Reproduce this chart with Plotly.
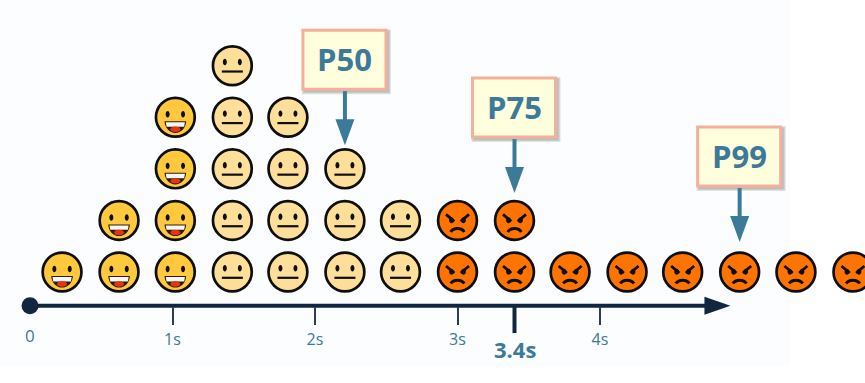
import plotly.graph_objects as go

# ---- data ----
HAPPY_X = [0.225, 0.625, 0.625, 1.02, 1.02, 1.02, 1.02]
HAPPY_LEVEL = [0, 0, 1, 0, 1, 2, 3]
NEUTRAL_X = [1.42, 1.42, 1.42, 1.42, 1.42, 1.81, 1.81, 1.81, 1.81, 2.21, 2.21, 2.21, 2.60, 2.60]
NEUTRAL_LEVEL = [0, 1, 2, 3, 4, 0, 1, 2, 3, 0, 1, 2, 0, 1]
ANGRY_X = [3.0, 3.0, 3.4, 3.4, 3.79, 4.19, 4.58, 4.98, 5.375, 5.775]
ANGRY_LEVEL = [0, 1, 0, 1, 0, 0, 0, 0, 0, 0]
PCT_LABELS = ["P50", "P75", "P99"]
PCT_X = [2.21, 3.4, 4.98]
PCT_TIP_LEVEL = [2.46, 1.53, 0.58]
TICK_VALS = [1, 2, 3, 4]
TICK_TEXT = ["1s", "2s", "3s", "4s"]
MARK_X = 3.4
MARK_TEXT = "3.4s"
AXIS_END = 4.74

# ---- style ----
W, H = 865, 383
AXIS_PX_Y = 306
AXIS_LEVEL = -0.654
PX_PER_S = 142.5
PX_PER_LEVEL = 51.57
ROW0_PX = 272
X0_PX = 30
INK = "#0e0e0e"
NAVY = "#12263f"
BLUE = "#3b7a98"
FONT = "Open Sans"
HAPPY = "#ffc83d"
NEUTRAL = "#fedf9a"
ANGRY = "#ff7400"


def py(p):
    """Paper fraction of a pixel row of the page."""
    return (H - p) / H


def ell(cx, cy, rx, ry):
    k = 0.55
    p = lambda x, y: f"{cx + x:.2f},{-(cy + y):.2f}"
    return (f"M{p(-rx, 0)} C{p(-rx, -k*ry)} {p(-k*rx, -ry)} {p(0, -ry)} "
            f"C{p(k*rx, -ry)} {p(rx, -k*ry)} {p(rx, 0)} "
            f"C{p(rx, k*ry)} {p(k*rx, ry)} {p(0, ry)} "
            f"C{p(-k*rx, ry)} {p(-rx, k*ry)} {p(-rx, 0)} Z")


def pts(*seq):
    out = []
    for s in seq:
        cmd, vals = s[0], s[1:]
        coords = " ".join(f"{vals[i]:.2f},{-vals[i+1]:.2f}" for i in range(0, len(vals), 2))
        out.append(f"{cmd}{coords}")
    return " ".join(out)


def glyph(x, y, path, fill=None, line=None, width=0):
    return dict(type="path", xref="x", yref="y", xsizemode="pixel", ysizemode="pixel",
                xanchor=x, yanchor=y, path=path, layer="above",
                fillcolor=fill if fill else "rgba(0,0,0,0)",
                line=dict(color=line if line else "rgba(0,0,0,0)", width=width))


def happy(x, y):
    return [
        glyph(x, y, ell(-7.7, -3, 2.0, 3.2) + " " + ell(7.7, -3, 2.0, 3.2), INK),
        glyph(x, y, pts(("M", -10.8, 4), ("L", 10.8, 4), ("C", 10.5, 11, 5.5, 15.6, 0, 15.6),
                        ("C", -5.5, 15.6, -10.5, 11, -10.8, 4), ("Z",)), "#2a1c08"),
        glyph(x, y, pts(("M", -9.6, 5), ("L", 9.6, 5), ("L", 8.8, 9.4), ("L", -8.8, 9.4), ("Z",)), "#f6f6f6"),
        glyph(x, y, ell(0, 12.0, 5, 2.7), "#e8330f"),
    ]


def neutral(x, y):
    return [
        glyph(x, y, ell(-7.5, -3.7, 2.0, 3.2) + " " + ell(7.5, -3.7, 2.0, 3.2), INK),
        glyph(x, y, pts(("M", -10.5, 5.8), ("L", 10.5, 5.8)), None, INK, 2.2),
    ]


def angry(x, y):
    return [
        glyph(x, y, pts(("M", -11.5, -6), ("L", -3.2, 1)) + " " + pts(("M", 11.5, -6), ("L", 3.2, 1)),
              None, INK, 2.8),
        glyph(x, y, ell(-6, -0.3, 2.4, 3) + " " + ell(6, -0.3, 2.4, 3), INK),
        glyph(x, y, pts(("M", -6.8, 11.5), ("C", -4, 7, 4, 7, 6.8, 11.5)), None, INK, 3),
    ]


fig = go.Figure()

fig.add_trace(go.Scatter(x=[0, AXIS_END], y=[AXIS_LEVEL, AXIS_LEVEL], mode="lines",
                         line=dict(color=NAVY, width=4), hoverinfo="skip"))
fig.add_trace(go.Scatter(x=[0], y=[AXIS_LEVEL], mode="markers",
                         marker=dict(color=NAVY, size=17), hoverinfo="skip"))

for xs, ys, col in ((HAPPY_X, HAPPY_LEVEL, HAPPY), (NEUTRAL_X, NEUTRAL_LEVEL, NEUTRAL), (ANGRY_X, ANGRY_LEVEL, ANGRY)):
    fig.add_trace(go.Scatter(x=xs, y=ys, mode="markers", hoverinfo="skip",
                             marker=dict(color=col, size=38.8, line=dict(color=INK, width=2.7))))

shapes = []
shapes.append(dict(type="rect", xref="paper", yref="paper", x0=0, x1=790 / W, y0=py(366), y1=1,
                   fillcolor="#fcfdff", line=dict(width=0), layer="below"))

for x, y in zip(HAPPY_X, HAPPY_LEVEL):
    shapes += happy(x, y)
for x, y in zip(NEUTRAL_X, NEUTRAL_LEVEL):
    shapes += neutral(x, y)
for x, y in zip(ANGRY_X, ANGRY_LEVEL):
    shapes += angry(x, y)

shapes.append(glyph(AXIS_END, AXIS_LEVEL, pts(("M", -1, -9), ("L", 25, 0), ("L", -1, 9), ("Z",)), NAVY))
shapes.append(dict(type="line", xref="x", yref="paper", x0=MARK_X, x1=MARK_X, y0=py(AXIS_PX_Y), y1=py(333),
                   line=dict(color=NAVY, width=4), layer="above"))

annotations = []
for label, x, tip in zip(PCT_LABELS, PCT_X, PCT_TIP_LEVEL):
    for off, alpha in ((0, 0.10), (1, 0.12), (2, 0.14)):
        shapes.append(glyph(x, tip, pts(("M", -43 - off + 2, -116 - off + 2), ("L", 42 + off + 2, -116 - off + 2),
                                        ("L", 42 + off + 2, -55 + off + 2), ("L", -43 - off + 2, -55 + off + 2), ("Z",)),
                            f"rgba(60,60,60,{alpha})"))
    shapes.append(glyph(x, tip, pts(("M", -42, -115), ("L", 41, -115), ("L", 41, -56), ("L", -42, -56), ("Z",)),
                        "#ffffdd", "#f4b09a", 3))
    shapes.append(glyph(x, tip, pts(("M", 0, -54), ("L", 0, -24)), None, BLUE, 4))
    shapes.append(glyph(x, tip, pts(("M", -9.5, -26), ("L", 9.5, -26), ("L", 0, 0), ("Z",)), BLUE))
    annotations.append(dict(x=x, y=tip, xref="x", yref="y", text=f"<b>{label}</b>", showarrow=False,
                            xshift=-0.5, yshift=86.5, xanchor="center", yanchor="middle",
                            font=dict(family=FONT, size=31, color=BLUE)))

annotations.append(dict(x=0, y=py(335.5), xref="x", yref="paper", text="0", showarrow=False,
                        xanchor="center", yanchor="middle", font=dict(family=FONT, size=17, color=BLUE)))
annotations.append(dict(x=MARK_X, y=py(349), xref="x", yref="paper",
                        text=f"<b>{MARK_TEXT}</b>", showarrow=False, xanchor="center", yanchor="middle",
                        font=dict(family=FONT, size=22, color=BLUE)))

fig.update_layout(
    width=W, height=H, autosize=False, showlegend=False,
    margin=dict(l=0, r=0, t=0, b=0, pad=0),
    paper_bgcolor="#ffffff", plot_bgcolor="rgba(0,0,0,0)",
    shapes=shapes, annotations=annotations,
    xaxis=dict(range=[-X0_PX / PX_PER_S, (W - X0_PX) / PX_PER_S], showgrid=False, zeroline=False,
               showline=False, anchor="free", position=py(AXIS_PX_Y),
               tickmode="array", tickvals=TICK_VALS, ticktext=TICK_TEXT,
               ticks="outside", ticklen=18, tickwidth=1.5, tickcolor="#2c3e52",
               ticklabelstandoff=1, tickfont=dict(family=FONT, size=16, color=BLUE)),
    yaxis=dict(range=[(ROW0_PX - H) / PX_PER_LEVEL, ROW0_PX / PX_PER_LEVEL], visible=False),
)

fig.write_html("out.html", post_script="document.body.style.margin='0';", config=dict(displayModeBar=False))
